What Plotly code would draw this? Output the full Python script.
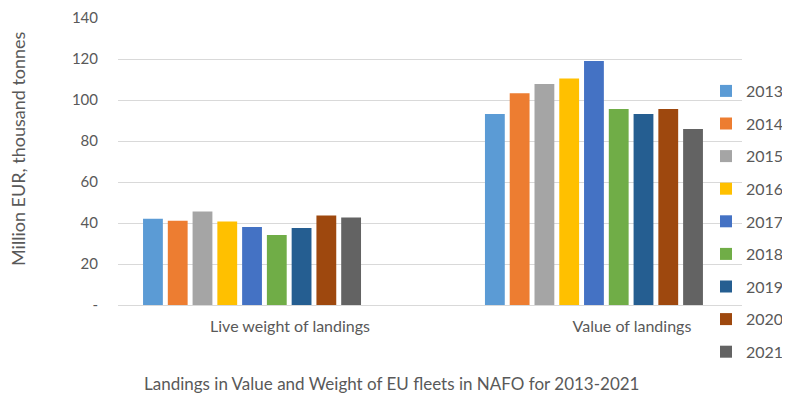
import plotly.graph_objects as go

categories = ["Live weight of landings", "Value of landings"]
years = ["2013", "2014", "2015", "2016", "2017", "2018", "2019", "2020", "2021"]
live_weight = [42.1, 41.1, 45.6, 40.7, 38.1, 34.2, 37.6, 43.7, 42.7]
value = [93.2, 103.3, 107.8, 110.5, 119.0, 95.6, 93.2, 95.6, 85.9]
colors = ["#5B9BD5", "#ED7D31", "#A5A5A5", "#FFC000", "#4472C4",
          "#70AD47", "#255E91", "#9E480E", "#636363"]
y_ticks = [0, 20, 40, 60, 80, 100, 120, 140]
y_ticktext = ["-", "20", "40", "60", "80", "100", "120", "140"]
x_title = "Landings in Value and Weight of EU fleets in NAFO for 2013-2021"
y_title = "Million EUR, thousand tonnes"

FONT = "Lato, 'Open Sans', sans-serif"
GREY = "#595959"

fig = go.Figure()
for i, yr in enumerate(years):
    fig.add_trace(go.Bar(
        x=categories, y=[live_weight[i], value[i]], name=yr,
        marker=dict(color=colors[i], line=dict(width=0)),
        legendgroup=yr,
    ))

# page body has an 8px margin: figure drawn at (8, 8) in the window
W, H = 774, 386
L, R, T, B = 110, 40, 10, 89
PW, PH = W - L - R, H - T - B

fig.update_layout(
    width=W, height=H,
    margin=dict(l=L, r=R, t=T, b=B, autoexpand=False),
    paper_bgcolor="white", plot_bgcolor="white",
    barmode="group", bargap=0.348, bargroupgap=0.2,
    font=dict(family=FONT, size=16, color=GREY),
    showlegend=True,
    legend=dict(x=(698 - L) / PW, xanchor="left", y=1 - (66 - T) / PH, yanchor="top",
                xref="paper", yref="paper",
                font=dict(size=16, color=GREY), tracegroupgap=8.8,
                bgcolor="rgba(0,0,0,0)", itemwidth=30),
    xaxis=dict(range=[-0.392, 1.433], showgrid=False, showline=False,
               ticks="", ticklabelshift=38, ticklabelstandoff=10,
               tickfont=dict(size=16, color=GREY)),
    yaxis=dict(range=[0, 140], tickvals=y_ticks, ticktext=y_ticktext,
               showgrid=True, gridcolor="#D9D9D9", gridwidth=1,
               zeroline=True, zerolinecolor="#D9D9D9", zerolinewidth=1,
               ticks="", ticklabelstandoff=19, ticklabeloverflow="allow",
               tickfont=dict(size=15, color=GREY)),
    annotations=[
        dict(text=x_title, xref="paper", yref="paper",
             x=(383 - L) / PW, y=-(375 - (H - B)) / PH,
             xanchor="center", yanchor="middle", showarrow=False,
             font=dict(size=17, color=GREY)),
        dict(text=y_title, xref="paper", yref="paper",
             x=(10 - L) / PW, y=1 - (140 - T) / PH, textangle=-90,
             xanchor="center", yanchor="middle", showarrow=False,
             font=dict(size=18, color=GREY)),
    ],
)

fig.write_html("out.html")
